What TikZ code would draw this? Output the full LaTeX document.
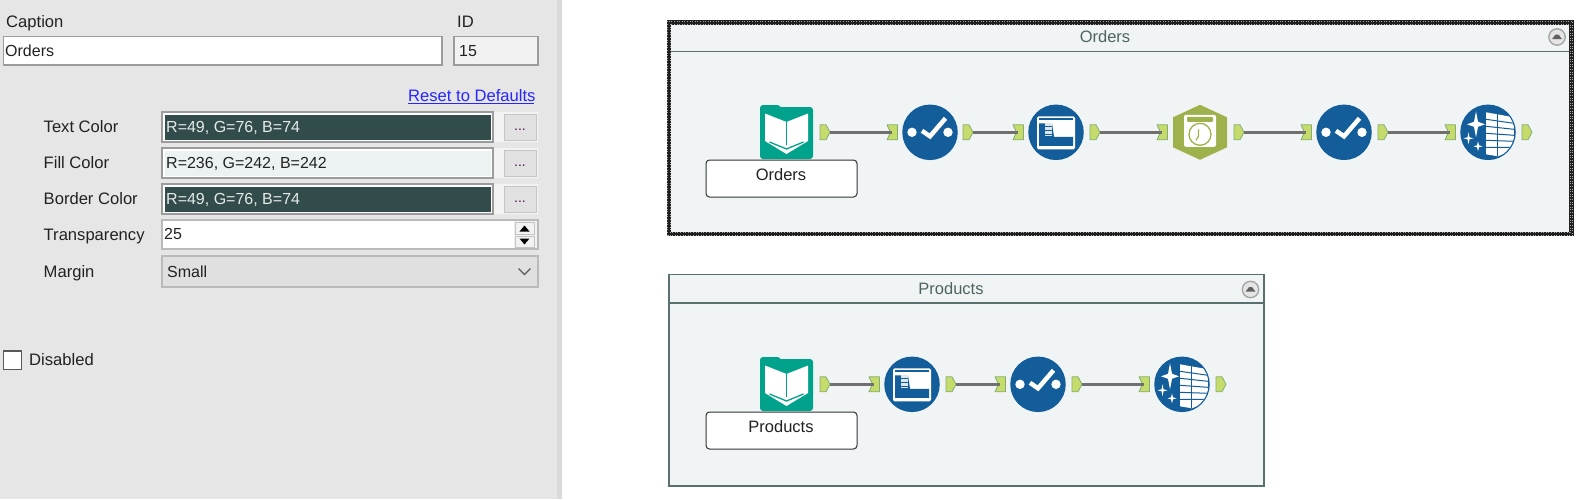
\documentclass[tikz,border=0pt]{standalone}
\usepackage{fontspec}
\setmainfont{Liberation Sans}
\definecolor{panel}{HTML}{E6E6E6}
\definecolor{panelb}{HTML}{D9D9D9}
\definecolor{fieldline}{HTML}{9C9C9C}
\definecolor{dark}{HTML}{314C4A}
\definecolor{cfill}{HTML}{ECF2F2}
\definecolor{cont}{HTML}{F0F4F5}
\definecolor{ttl}{HTML}{4D6462}
\definecolor{blueicon}{HTML}{135D9A}
\definecolor{teal}{HTML}{00A28B}
\definecolor{olive}{HTML}{9DB24C}
\definecolor{ancfill}{HTML}{C5DB6C}
\definecolor{ancline}{HTML}{85AD70}
\definecolor{wire}{HTML}{707070}
\definecolor{txt}{HTML}{222222}
\tikzset{
  ui/.style={anchor=base west,inner sep=0pt,yshift=-5.7pt,font=\fontsize{16}{18}\selectfont,text=txt},
  uilab/.style={ui,font=\fontsize{16.6}{18}\selectfont},
  field/.style={draw=fieldline,line width=1.2pt,fill=white},
  btn/.style={draw=fieldline!60,line width=1pt,fill=panel!98!black},
  dots/.style={inner sep=0pt,font=\fontsize{14}{14}\selectfont,text=txt!50!violet},
  frameline/.style={draw=dark!80,line width=1.6pt},
  ctitle/.style={inner sep=0pt,font=\fontsize{16.5}{18}\selectfont,text=ttl},
  lbl/.style={draw=black!80,line width=1pt,fill=white,rounded corners=3.5pt,inner sep=0pt},
  lbltxt/.style={inner sep=0pt,font=\fontsize{16.5}{18}\selectfont,text=txt},
  ancnode/.style={inner sep=0pt,minimum width=10pt,minimum height=16pt},
  ancshape/.style={fill=ancfill,draw=ancline,line width=.8pt,line join=round},
  wirestyle/.style={draw=wire,line width=2.6pt},
  ball/.style={circle,fill=blueicon,inner sep=0pt,minimum size=55.5pt},
  iconbox/.style={inner sep=0pt,minimum size=54pt},
  bookicon/.pic={
    \fill[teal,rounded corners=3pt] (-26.5,-25) rectangle (26.5,27);
    \fill[teal,rounded corners=3pt] (-26.5,-27) rectangle (-6,-12);
    \fill[white] (-21.5,-18.5)--(0,-10)--(21.5,-18.5)--(21.5,9)--(0,22)--(-21.5,9)--cycle;
    \draw[teal,line width=1.3pt] (0,-10)--(0,13);
    \draw[teal,line width=1.3pt] (-17,10)--(0,17)--(17,10);
  },
  checkicon/.pic={
    \fill[white] (-18,0) circle (4.7) (18,0) circle (4.7);
    \draw[white,line width=4.5pt] (-8,-1.5)--(0,4)--(15.5,-14);
  },
  selecticon/.pic={
    \fill[white,rounded corners=1.5pt] (-19,-16) rectangle (19,17);
    \draw[blueicon,line width=1.6pt] (-17,-13.5)--(17,-13.5);
    \fill[blueicon] (-17,-9)--(-4,-9)--(-2,4.5)--(17,4.5)--(17,13.5)--(-17,13.5)--cycle;
    \fill[white!85!blueicon] (-11.5,-9) rectangle (-4.5,4);
    \draw[blueicon,line width=.8pt] (-12,-5.5)--(-4,-5.5) (-12,-1.5)--(-4,-1.5) (-12,2)--(-4,2);
  },
  clockicon/.pic={
    \fill[olive] (0,-27.5)--(27,-15)--(27,15)--(0,27.5)--(-27,15)--(-27,-15)--cycle;
    \fill[white,rounded corners=2pt] (-16,-17.5) rectangle (16,14.5);
    \fill[olive,rounded corners=1pt] (-13,-15.5) rectangle (13,-10.5);
    \draw[olive,line width=1.3pt] (0,2) circle (11);
    \draw[olive,line width=1.2pt] (-1.5,-3)--(-1.5,4)--(-4,8);
  },
  cleanseicon/.pic={
    \begin{scope}
      \clip (0,0) circle (26.5);
      \fill[white] (-2,-20)--(26,-15)--(26,17)--(10,24)--(-2,22)--cycle;
      \draw[blueicon,line width=1pt] (-2,-13)--(26,-9) (-2,-6)--(26,-3) (-2,1)--(26,3)
        (-2,8)--(26,9) (-2,15)--(26,15);
      \draw[blueicon,line width=.8pt] (9,-20)--(9,24);
    \end{scope}
    \fill[white] (-12,-21)--(-10,-10.5)--(-3,-8)--(-10,-5.5)--(-12,5)--(-14,-5.5)--(-21,-8)--(-14,-10.5)--cycle;
    \fill[white] (-19.5,0)--(-18.5,5)--(-14.5,6)--(-18.5,7)--(-19.5,12)--(-20.5,7)--(-24.5,6)--(-20.5,5)--cycle;
    \fill[white] (-10,9)--(-9,13)--(-5.5,14)--(-9,15)--(-10,19)--(-11,15)--(-14.5,14)--(-11,13)--cycle;
  },
  collapse/.pic={
    \fill[black!10,draw=black!35,line width=1.4pt] (0,0) circle (8.2);
    \fill[black!62] (-5,2.2)--(-1.5,-2.5)--(1.5,-2.5)--(5,2.2)--cycle;
  },
}
\newcommand{\outanc}[3]{%
  \node[ancnode] (#1) at (#2+5,#3) {};
  \draw[ancshape] (#2,#3-7.5)--(#2+6,#3-7.5)--(#2+10,#3)--(#2+6,#3+7.5)--(#2,#3+7.5)--cycle;}
\newcommand{\inanc}[3]{%
  \node[ancnode] (#1) at (#2+5,#3) {};
  \draw[ancshape] (#2,#3-7.5)--(#2+10.5,#3-7.5)--(#2+10.5,#3+7.5)--(#2,#3+7.5)--(#2+3.5,#3)--cycle;}
\newcommand{\wirelink}[2]{\draw[wirestyle] (#1.east) -- (#2.center);}
\begin{document}
\begin{tikzpicture}[x=1pt,y=-1pt]
\useasboundingbox (0,0) rectangle (1585,499);
\fill[white] (0,0) rectangle (1585,499);
% left panel
\fill[panel] (0,0) rectangle (557,499);
\fill[panelb] (557,0) rectangle (562,499);
\node[uilab] (capl) at (6,22) {Caption};
\node[uilab] (idl) at (457,22) {ID};
\draw[field] (3.5,36.5) rectangle (442,65);
\node[ui] (capv) at (5,50.5) {Orders};
\draw[field,fill=panel!50!white] (454,36.5) rectangle (538,65);
\node[ui] (idv) at (459,50.5) {15};
\node[ui,font=\fontsize{16.6}{18}\selectfont,text=blue!85!white] (reset) at (408,96) {Reset to Defaults};
\draw[blue!85!white,line width=1pt] (reset.south west) ++(0,1.5) -- ++(126,0);
\fill[panel!50!white] (493,112) rectangle (538,142) (493,148) rectangle (538,178) (493,184) rectangle (538,214);
% rows
\node[uilab] (l1) at (43.5,127) {Text Color};
\node[uilab] (l2) at (43.5,163) {Fill Color};
\node[uilab] (l3) at (43.5,199) {Border Color};
\node[uilab] (l4) at (43.5,235) {Transparency};
\node[uilab] (l5) at (43.5,271.5) {Margin};
\draw[field,fill=white] (162,112) rectangle (493,142);
\fill[dark] (164.5,114.5) rectangle (490.5,139.5);
\node[ui,text=white!88!dark] (v1) at (166,127) {R=49, G=76, B=74};
\draw[field,fill=white] (162,148) rectangle (493,178);
\fill[cfill] (164.5,150.5) rectangle (490.5,175.5);
\node[ui] (v2) at (166,163) {R=236, G=242, B=242};
\draw[field,fill=white] (162,184) rectangle (493,214);
\fill[dark] (164.5,186.5) rectangle (490.5,211.5);
\node[ui,text=white!88!dark] (v3) at (166,199) {R=49, G=76, B=74};
\draw[btn] (504,114) rectangle (536,140);
\draw[btn] (504,150) rectangle (536,176);
\draw[btn] (504,186) rectangle (536,212);
\node[dots] (d1) at (520,130) {...};
\node[dots] (d2) at (520,166) {...};
\node[dots] (d3) at (520,202) {...};
% transparency
\draw[draw=fieldline!70,line width=1.2pt,fill=white] (162,220) rectangle (538,249);
\node[ui] (v4) at (164,233.5) {25};
\fill[panel!60!white] (514,221) rectangle (537,248);
\draw[btn,fill=panel!50!white] (515,222.5) rectangle (534.5,234.5);
\draw[btn,fill=panel!50!white] (515,236) rectangle (534.5,247);
\fill[black] (519.5,231.5)--(524.5,225.5)--(529.5,231.5)--cycle;
\fill[black] (519.5,238.5)--(524.5,244.5)--(529.5,238.5)--cycle;
% margin
\draw[draw=fieldline!70,line width=1.2pt,fill=black!12] (162,256) rectangle (538,287);
\node[ui] (v5) at (167,272) {Small};
\draw[black!65,line width=1.2pt] (518.5,268.5)--(524.5,274.5)--(530.5,268.5);
% checkbox
\draw[draw=black!65,line width=1.2pt,fill=white] (3.5,351) rectangle (21.5,369.5);
\node[uilab] (v6) at (29,359.5) {Disabled};
% Orders container
\fill[cont] (669,22.7) rectangle (1571.5,234);
\draw[black!88,line width=4.6pt] (669,22.7) rectangle (1571.5,234);
\draw[white!65!black,line width=1pt,dash pattern=on 1pt off 1.6pt] (667.7,21.4) rectangle (1572.8,235.3);
\draw[white!65!black,line width=1pt,dash pattern=on 1pt off 1.6pt] (670.3,24) rectangle (1570.2,232.7);
\draw[frameline] (671,51.3) -- (1569,51.3);
\node[ctitle] (ot) at (1105,36.5) {Orders};
\pic at (1557,37) {collapse};
\node[iconbox] (a1) at (786.5,132) {};
\pic at (a1.center) {bookicon};
\node[lbl,minimum width=151pt,minimum height=37pt] (a1l) at (781.5,178.5) {};
\node[lbltxt] (a1t) at (781,175) {Orders};
\outanc{ao1}{820}{132.3}
\inanc{ai2}{887}{132.3}
\node[ball] (a2) at (930,132.3) {};
\pic at (a2.center) {checkicon};
\outanc{ao2}{963}{132.3}
\inanc{ai3}{1013}{132.3}
\node[ball] (a3) at (1056,132.3) {};
\pic at (a3.center) {selecticon};
\outanc{ao3}{1090}{132.3}
\inanc{ai4}{1157}{132.3}
\node[iconbox] (a4) at (1200,132.3) {};
\pic at (a4.center) {clockicon};
\outanc{ao4}{1234}{132.3}
\inanc{ai5}{1301}{132.3}
\node[ball] (a5) at (1344,132.3) {};
\pic at (a5.center) {checkicon};
\outanc{ao5}{1378}{132.3}
\inanc{ai6}{1445}{132.3}
\node[ball] (a6) at (1488,132.3) {};
\pic at (a6.center) {cleanseicon};
\outanc{ao6}{1522}{132.3}
\wirelink{ao1}{ai2}
\wirelink{ao2}{ai3}
\wirelink{ao3}{ai4}
\wirelink{ao4}{ai5}
\wirelink{ao5}{ai6}
% Products container
\fill[cont] (669,274.3) rectangle (1264,486);
\draw[frameline] (669,274.3) rectangle (1264,486);
\draw[frameline] (669,303) -- (1264,303);
\node[ctitle] (pt) at (951,288.5) {Products};
\pic at (1250.5,289.5) {collapse};
\node[iconbox] (b1) at (786.5,384) {};
\pic at (b1.center) {bookicon};
\node[lbl,minimum width=151pt,minimum height=37pt] (b1l) at (781.5,430.5) {};
\node[lbltxt] (b1t) at (781,427) {Products};
\outanc{bo1}{820}{384.3}
\inanc{bi2}{869}{384.3}
\node[ball] (b2) at (912,384.3) {};
\pic at (b2.center) {selecticon};
\outanc{bo2}{946}{384.3}
\inanc{bi3}{995}{384.3}
\node[ball] (b3) at (1038,384.3) {};
\pic at (b3.center) {checkicon};
\outanc{bo3}{1072}{384.3}
\inanc{bi4}{1139}{384.3}
\node[ball] (b4) at (1182,384.3) {};
\pic at (b4.center) {cleanseicon};
\outanc{bo4}{1216}{384.3}
\wirelink{bo1}{bi2}
\wirelink{bo2}{bi3}
\wirelink{bo3}{bi4}
\end{tikzpicture}
\end{document}
